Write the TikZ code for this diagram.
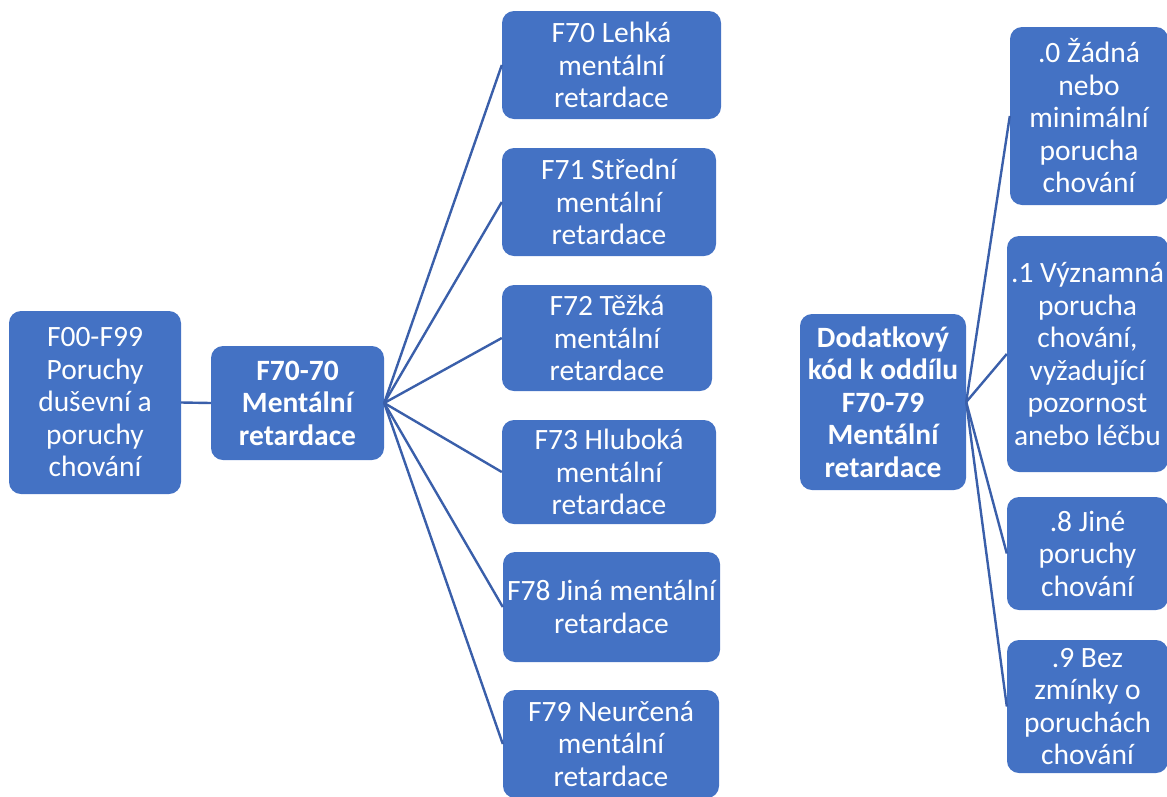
\documentclass[tikz,border=0pt]{standalone}
\usepackage{fontspec}
\setmainfont{Carlito}
\definecolor{boxfill}{HTML}{4472C4}
\definecolor{linecol}{HTML}{3A5FAA}
\begin{document}
\begin{tikzpicture}[x=1pt,y=-1pt,
  box/.style={fill=boxfill, rounded corners=12pt, text=white, align=center,
    inner sep=0pt, font=\fontsize{29.5}{32.5}\selectfont},
  boldbox/.style={box, font=\fontsize{29.5}{32.5}\selectfont\bfseries},
  link/.style={draw=linecol, line width=2.4pt}]
\useasboundingbox (0,0) rectangle (1167,796);
% left part
\node[box, minimum width=172pt, minimum height=183pt] (a) at (95,402.5) {F00-F99\\Poruchy\\duševní a\\poruchy\\chování};
\node[boldbox, minimum width=173pt, minimum height=114pt] (b) at (297.5,403) {F70-70\\Mentální\\retardace};
\node[box, minimum width=219pt, minimum height=108pt] (c1) at (611.5,65) {F70 Lehká\\mentální\\retardace};
\node[box, minimum width=214pt, minimum height=108pt] (c2) at (609,202) {F71 Střední\\mentální\\retardace};
\node[box, minimum width=210pt, minimum height=106pt] (c3) at (607,338) {F72 Těžká\\mentální\\retardace};
\node[box, minimum width=214pt, minimum height=104pt] (c4) at (609,472) {F73 Hluboká\\mentální\\retardace};
\node[box, minimum width=217pt, minimum height=110pt] (c5) at (611.5,607) {\makebox[200pt][c]{F78 Jiná mentální}\\retardace};
\node[box, minimum width=216pt, minimum height=108pt] (c6) at (611,744) {F79 Neurčená\\mentální\\retardace};
% right part
\node[boldbox, minimum width=166pt, minimum height=176pt] (d) at (883,402) {\makebox[150pt][c]{Dodatkový}\\\makebox[150pt][c]{kód k oddílu}\\F70-79\\Mentální\\retardace};
\node[box, minimum width=158pt, minimum height=178pt] (e1) at (1089,116) {.0 Žádná\\nebo\\minimální\\porucha\\chování};
\node[box, minimum width=161pt, minimum height=236pt] (e2) at (1087.5,354) {\makebox[140pt][c]{.1 Významná}\\porucha\\chování,\\vyžadující\\pozornost\\\makebox[140pt][c]{anebo léčbu}};
\node[box, minimum width=161pt, minimum height=113pt] (e3) at (1087.5,553.5) {.8 Jiné\\poruchy\\chování};
\node[box, minimum width=161pt, minimum height=133pt] (e4) at (1087.5,706.5) {.9 Bez\\zmínky o\\poruchách\\chování};
% connectors
\draw[link] (a.east) -- (b.west);
\foreach \n in {c1,c2,c3,c4,c5,c6} \draw[link] (b.east) -- (\n.west);
\foreach \n in {e1,e2,e3,e4} \draw[link] (d.east) -- (\n.west);
\end{tikzpicture}
\end{document}
